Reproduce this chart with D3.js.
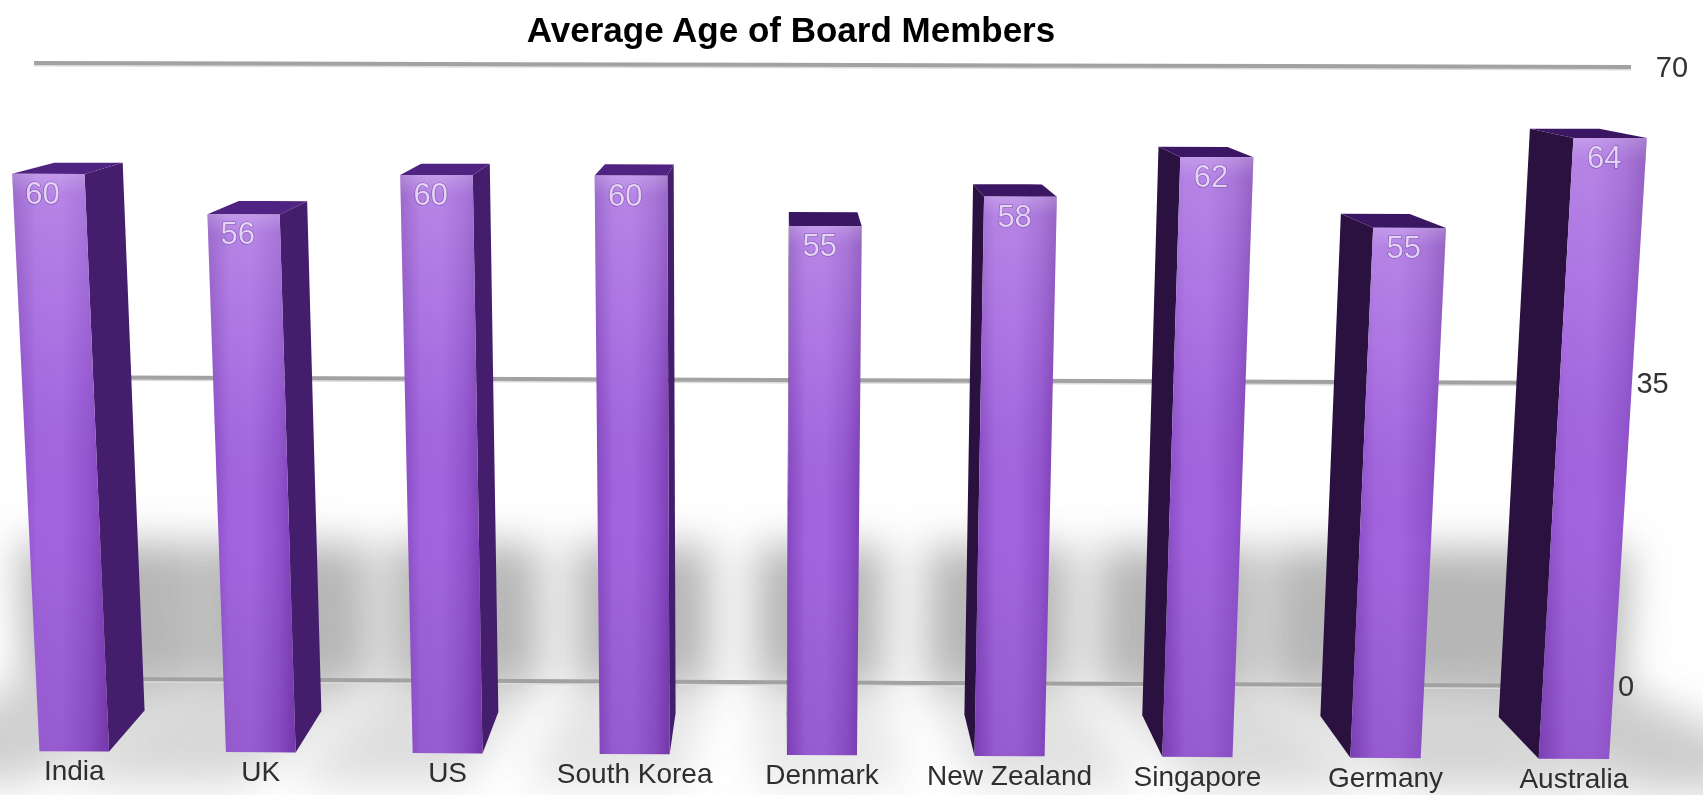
<!DOCTYPE html>
<html>
<head>
<meta charset="utf-8">
<script src="https://cdn.jsdelivr.net/npm/d3@7"></script>
<style>
  body { margin: 0; background: #fff; }
  svg { display: block; font-family: "Liberation Sans", Arial, Helvetica, sans-serif; }
</style>
</head>
<body>
<div id="chart-area"></div>
<script>
var countries = ['India', 'UK', 'US', 'South Korea', 'Denmark', 'New Zealand', 'Singapore', 'Germany', 'Australia'];
var ages = [60, 56, 60, 60, 55, 58, 62, 55, 64];
var tickValues = [0, 35, 70];
var chartTitle = 'Average Age of Board Members';

var width = 1703;
var height = 795;

// pinhole camera looking slightly down at the bars
var cam = { x: 782, y: 774, dist: 2435, f: 2530, cy: 400, pitch: 9.65, yaw: 0.55, roll: 0.12 };
var rad = Math.PI / 180;
var sinP = Math.sin(cam.pitch * rad), cosP = Math.cos(cam.pitch * rad);
var sinY = Math.sin(cam.yaw * rad), cosY = Math.cos(cam.yaw * rad);
var sinR = Math.sin(cam.roll * rad), cosR = Math.cos(cam.roll * rad);
cam.cx = 782 - cam.f * Math.tan(cam.yaw * rad);
var barDepth = 143;
var wallZ = 262;

function project(X, Y, Z) {
  var dx0 = X - cam.x;
  var e0 = Z + cam.dist;
  var dx = dx0 * cosY + e0 * sinY;
  var e = e0 * cosY - dx0 * sinY;
  var u = Y - cam.y;
  var depth = e * cosP - u * sinP;
  var up = u * cosP + e * sinP;
  var px = cam.f * dx / depth;
  var py = -cam.f * up / depth;
  return [cam.cx + px * cosR - py * sinR, cam.cy + px * sinR + py * cosR];
}

function poly(pts) {
  return pts.map(function(p) { return project(p[0], p[1], p[2]).join(','); }).join(' ');
}

var xScale = d3.scaleBand()
  .domain(countries)
  .range([0, 1668])
  .paddingInner(0.6265)
  .paddingOuter(0.2636)
  .align(0.395);

var yScale = d3.scaleLinear()
  .domain([0, 70])
  .range([0, 675]);

var data = countries.map(function(c, i) { return { country: c, age: ages[i] }; });

var svg = d3.select('#chart-area')
  .append('svg')
  .attr('width', width)
  .attr('height', height);

var defs = svg.append('defs');

var blur = defs.append('filter').attr('id', 'shadowBlur')
  .attr('x', '-50%').attr('y', '-50%').attr('width', '200%').attr('height', '200%');
blur.append('feGaussianBlur').attr('stdDeviation', 20);

var frontGrad = defs.append('linearGradient').attr('id', 'frontGrad')
  .attr('x1', '0%').attr('x2', '100%').attr('y1', '0%').attr('y2', '0%');
[['0%', '#8446bf'], ['25%', '#a264de'], ['50%', '#a466e0'], ['80%', '#9254cf'], ['100%', '#7c3db5']].forEach(function(s) {
  frontGrad.append('stop').attr('offset', s[0]).attr('stop-color', s[1]);
});

var shineGrad = defs.append('linearGradient').attr('id', 'shineGrad')
  .attr('x1', '0%').attr('x2', '0%').attr('y1', '0%').attr('y2', '100%');
[['0%', '#ffffff', 0.35], ['3.5%', '#ffffff', 0.2], ['35%', '#ffffff', 0.05], ['60%', '#000000', 0], ['100%', '#2a004a', 0.1]].forEach(function(s) {
  shineGrad.append('stop').attr('offset', s[0]).attr('stop-color', s[1]).attr('stop-opacity', s[2]);
});

// soft shadows on the back wall and floor, spreading outward from the middle
var shadowG = svg.append('g').attr('filter', 'url(#shadowBlur)');
data.forEach(function(d) {
  var x0 = xScale(d.country);
  var x1 = x0 + xScale.bandwidth();
  var mid = (x0 + x1) / 2;
  var off = (mid - cam.x) * 0.08;
  var a = x0 - 35 + Math.min(off, 0);
  var b = x1 + 35 + Math.max(off, 0);
  shadowG.append('polygon')
    .attr('points', poly([[a, 0, wallZ], [b, 0, wallZ], [b, yScale(16), wallZ], [a, yScale(16), wallZ]]))
    .attr('fill', '#6e6e6e')
    .attr('opacity', 0.5);
  shadowG.append('polygon')
    .attr('points', poly([[a + off * 1.6, 0, -100], [b + off * 1.6, 0, -100], [b, 0, wallZ], [a, 0, wallZ]]))
    .attr('fill', '#8c8c8c')
    .attr('opacity', 0.18 + 0.004 * Math.abs(off));
});

// gridlines on the back wall
var xr = xScale.range();
var wallX = [xr[0] - 12, xr[1] + 8];
var grid = svg.append('g');
tickValues.forEach(function(t) {
  var p0 = project(wallX[0], yScale(t), wallZ);
  var p1 = project(wallX[1], yScale(t), wallZ);
  grid.append('line')
    .attr('x1', p0[0]).attr('y1', p0[1] + 2.5)
    .attr('x2', p1[0]).attr('y2', p1[1] + 2.5)
    .attr('stroke', '#dcdcdc').attr('stroke-width', 2);
  grid.append('line')
    .attr('x1', p0[0]).attr('y1', p0[1])
    .attr('x2', p1[0]).attr('y2', p1[1])
    .attr('stroke', '#a2a2a2').attr('stroke-width', 4);
  var lp = project(wallX[1] + 26, yScale(t), wallZ);
  grid.append('text')
    .attr('x', lp[0]).attr('y', lp[1])
    .attr('dy', '0.33em')
    .attr('font-size', '29px')
    .attr('fill', '#333')
    .text(t);
});

// bars
var bars = svg.append('g');
data.forEach(function(d) {
  var x0 = xScale(d.country);
  var x1 = x0 + xScale.bandwidth();
  var h = yScale(d.age);
  var leftOfCam = (x0 + x1) / 2 < cam.x;
  var g = bars.append('g');

  var sx = leftOfCam ? x1 : x0;
  g.append('polygon')
    .attr('points', poly([[sx, 0, 0], [sx, 0, barDepth], [sx, h, barDepth], [sx, h, 0]]))
    .attr('fill', leftOfCam ? '#441d6c' : '#2a1140');

  g.append('polygon')
    .attr('points', poly([[x0, h, 0], [x1, h, 0], [x1, h, barDepth], [x0, h, barDepth]]))
    .attr('fill', leftOfCam ? '#4e2381' : '#3b1763');

  var front = poly([[x0, 0, 0], [x1, 0, 0], [x1, h, 0], [x0, h, 0]]);
  g.append('polygon').attr('points', front).attr('fill', 'url(#frontGrad)');
  g.append('polygon').attr('points', front).attr('fill', 'url(#shineGrad)');

  var vp = project(x0 + xScale.bandwidth() * 0.42, h, 0);
  g.append('text')
    .attr('x', vp[0]).attr('y', vp[1] + 30)
    .attr('text-anchor', 'middle')
    .attr('font-size', '31px')
    .attr('fill', '#efe3fb')
    .attr('fill-opacity', 0.85)
    .attr('stroke', '#5b2d8c')
    .attr('stroke-opacity', 0.6)
    .attr('stroke-width', 1.2)
    .attr('paint-order', 'stroke')
    .text(d.age);

  var bp = project((x0 + x1) / 2, 0, 0);
  svg.append('text')
    .attr('x', bp[0]).attr('y', bp[1] + 29)
    .attr('text-anchor', 'middle')
    .attr('font-size', '28px')
    .attr('fill', '#2e2e2e')
    .text(d.country);
});

svg.append('text')
  .attr('x', 791)
  .attr('y', 42)
  .attr('text-anchor', 'middle')
  .attr('font-size', '35px')
  .attr('font-weight', 'bold')
  .attr('fill', '#000')
  .text(chartTitle);
</script>
</body>
</html>
